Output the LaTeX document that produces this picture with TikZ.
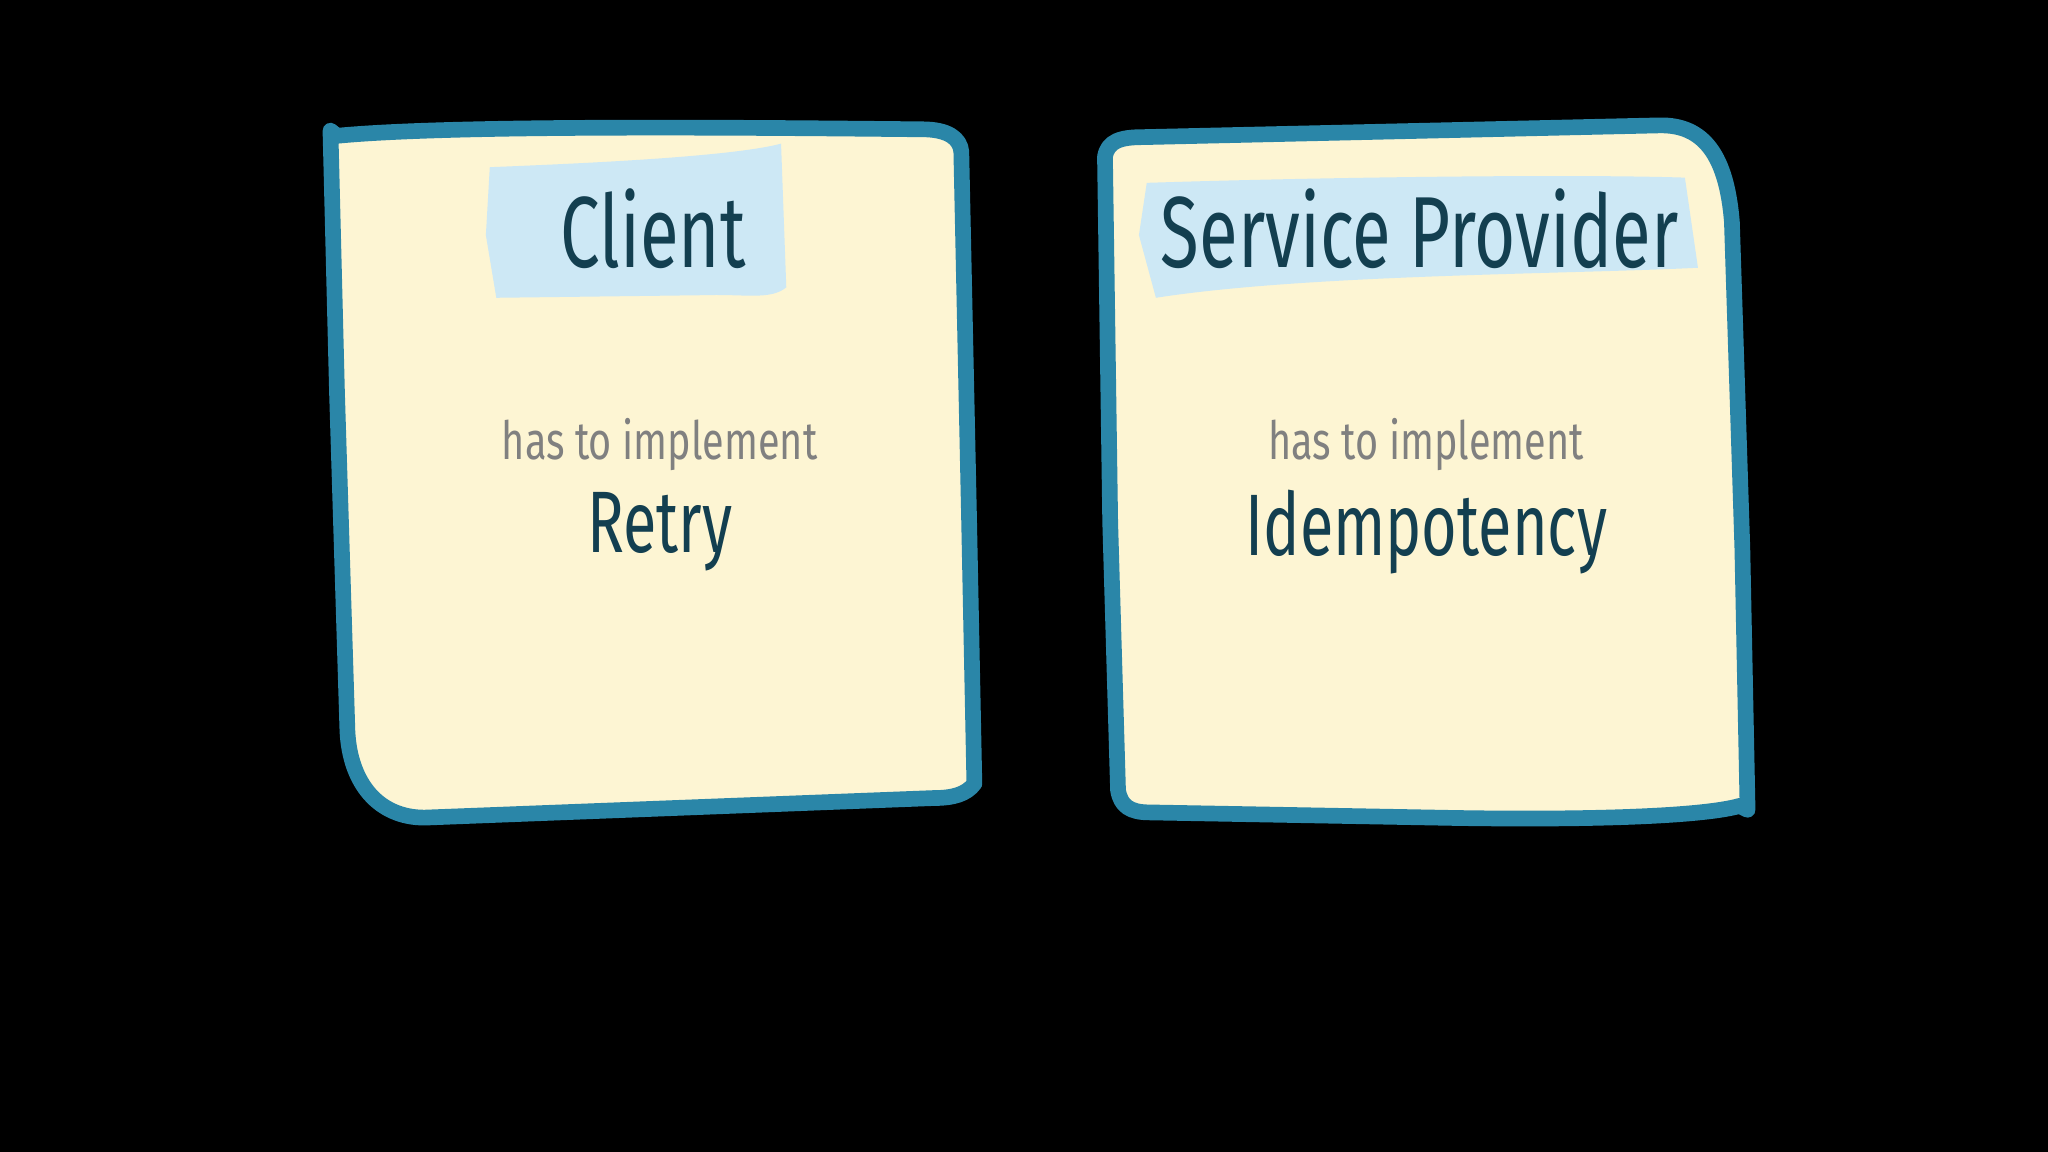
\documentclass[tikz,border=0pt]{standalone}
\usepackage{fontspec}
\setmainfont{Fira Sans}
\newfontfamily\narrowfont[FakeStretch=0.7]{Fira Sans}
\newfontfamily\softfont[FakeStretch=0.75]{Fira Sans}
\definecolor{paper}{HTML}{FDF5D3}
\definecolor{edge}{HTML}{2A86A8}
\definecolor{hl}{HTML}{CDE8F5}
\definecolor{ink}{HTML}{133F50}
\definecolor{soft}{HTML}{808080}
\begin{document}
\begin{tikzpicture}[x=0.01cm,y=-0.01cm,
  card/.style={fill=paper,draw=edge,line width=1.2mm,line join=round},
  title/.style={text=ink,font=\narrowfont\fontsize{22}{26}\selectfont},
  sub/.style={text=soft,font=\softfont\fontsize{11.5}{14}\selectfont},
  key/.style={text=ink,font=\narrowfont\fontsize{19}{23}\selectfont}]
\fill[black] (0,0) rectangle (1568,882);
\useasboundingbox (0,0) rectangle (1568,882);
% left card
\draw[card] (253,100) -- (258,104) .. controls (350,95) and (600,98) .. (706,99)
  .. controls (726,99) and (735,106) .. (736,116) -- (742,400) -- (746,600)
  .. controls (740,608) and (730,611) .. (715,611) -- (325,626)
  .. controls (290,626) and (268,600) .. (266,560) -- (258,300) -- cycle;
\fill[hl] (375,128) .. controls (450,125) and (560,120) .. (598,110) -- (602,220)
  .. controls (590,230) and (570,225) .. (540,226) -- (380,228) -- (372,180) -- cycle;
% right card
\draw[card] (846,120) .. controls (848,108) and (858,105) .. (875,105)
  -- (1270,96) .. controls (1305,95) and (1322,120) .. (1326,170)
  -- (1334,420) -- (1338,620) -- (1332,617) .. controls (1300,626) and (1200,628) .. (1100,626)
  -- (880,622) .. controls (865,622) and (858,617) .. (856,605) -- (850,400) -- cycle;
\fill[hl] (878,140) .. controls (1000,136) and (1200,133) .. (1290,136) -- (1300,205)
  .. controls (1200,210) and (1000,210) .. (885,228) -- (872,180) -- cycle;
\node[title] (c) at (500,175) {Client};
\node[title] (s) at (1087,175) {Service Provider};
\node[sub] (c1) at (505,340) {has to implement};
\node[sub] (s1) at (1092,340) {has to implement};
\node[key] (c2) at (505,407) {Retry};
\node[key] (s2) at (1092,407) {Idempotency};
\end{tikzpicture}
\end{document}
